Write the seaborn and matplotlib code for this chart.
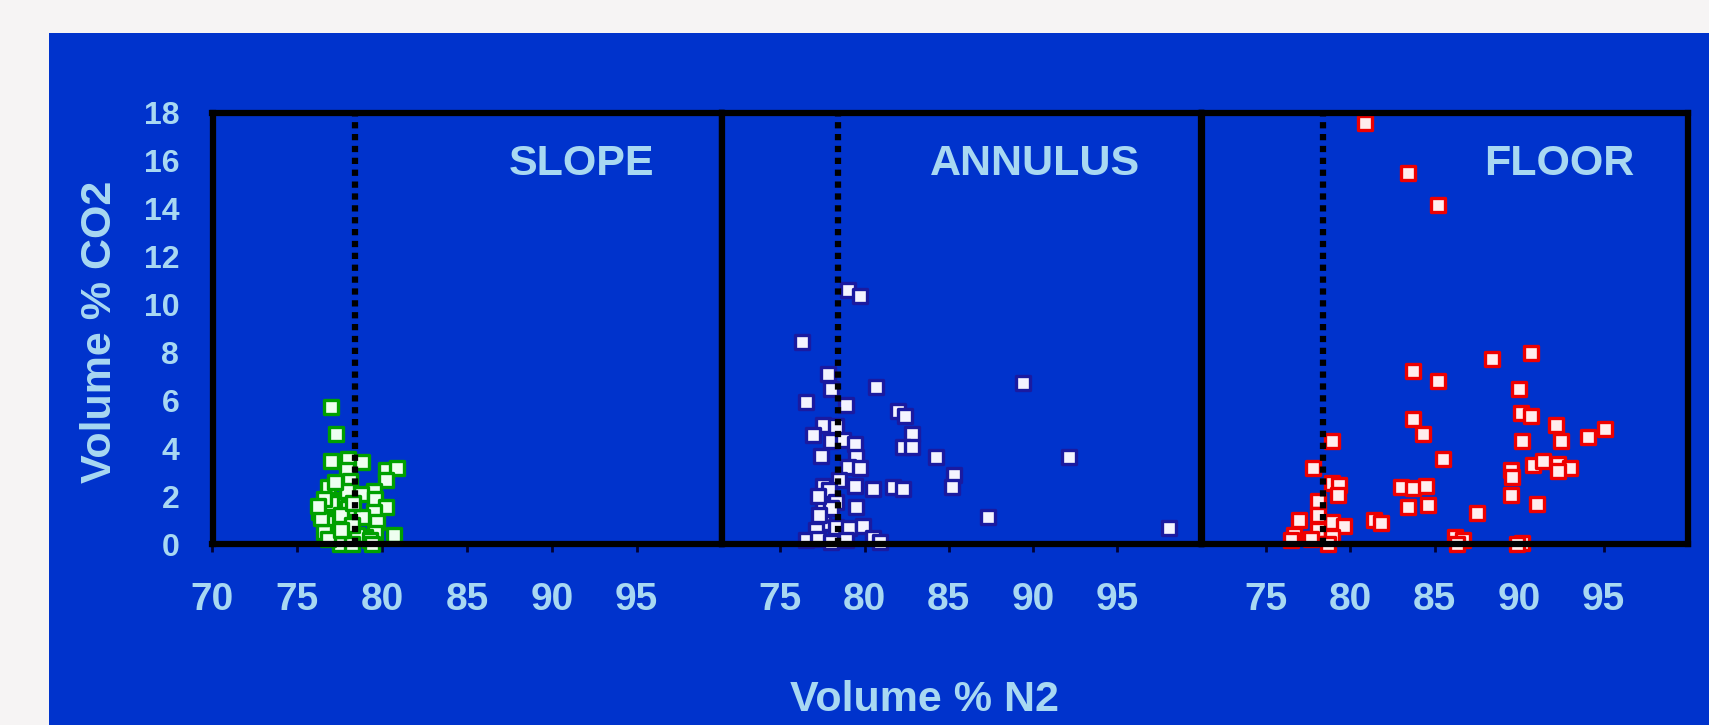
import matplotlib
matplotlib.use("Agg")
import matplotlib.pyplot as plt
import seaborn as sns
from matplotlib.patches import Rectangle

# Volume % N2 / Volume % CO2
slope_n2 = [77.0, 77.3, 77.0, 78.0, 78.8, 80.2, 80.9, 77.9, 78.1, 80.2, 76.8, 79.5,
            78.75, 79.6, 77.5, 80.2, 76.9, 78.0, 79.5, 76.3, 77.3, 76.7, 79.7, 78.8,
            76.6, 79.6, 80.7, 77.8, 79.0, 78.5, 79.3, 77.5, 78.2, 79.4, 76.4, 77.0,
            77.6, 78.2, 76.8, 77.9, 78.3, 77.2, 76.6, 77.6, 76.2]
slope_co2 = [5.72, 4.6, 3.47, 3.54, 3.44, 3.07, 3.17, 3.1, 2.65, 2.68, 2.4, 2.22,
             2.09, 1.88, 1.84, 1.56, 1.42, 1.49, 1.35, 1.35, 1.0, 0.93, 0.93, 1.14,
             0.51, 0.45, 0.38, 0.51, 0.31, 0.38, 0.17, 0.0, 0.02, 0.0, 1.1, 1.7,
             1.2, 0.8, 0.2, 2.2, 1.7, 2.6, 1.9, 0.6, 1.6]

annulus_n2 = [79.0, 79.7, 76.3, 77.8, 78.0, 80.7, 89.4, 76.5, 78.9, 82.0, 82.4, 77.55,
              78.3, 76.95, 82.8, 78.0, 78.7, 79.4, 82.25, 82.8, 77.4, 79.5, 84.25, 92.15,
              79.0, 79.7, 85.3, 78.5, 77.5, 77.9, 79.4, 80.5, 81.7, 82.25, 85.2, 78.3,
              79.5, 77.5, 78.0, 77.5, 78.3, 79.1, 79.9, 77.1, 87.3, 98.1, 76.5, 77.2,
              78.0, 78.9, 80.5, 80.9, 77.3, 77.2]
annulus_co2 = [10.6, 10.35, 8.45, 7.1, 6.47, 6.56, 6.72, 5.95, 5.82, 5.54, 5.33, 4.95,
               4.94, 4.56, 4.59, 4.31, 4.35, 4.18, 4.05, 4.05, 3.68, 3.65, 3.65, 3.65,
               3.23, 3.17, 2.9, 2.68, 2.43, 2.26, 2.43, 2.29, 2.4, 2.29, 2.4, 1.77,
               1.53, 1.49, 1.5, 0.89, 0.72, 0.66, 0.75, 0.59, 1.14, 0.66, 0.17, 0.2,
               0.1, 0.15, 0.24, 0.1, 1.2, 2.0]

floor_n2 = [80.9, 83.4, 85.2, 88.4, 90.7, 83.7, 85.2, 90.0, 90.1, 90.7, 83.7, 84.3,
            92.2, 95.1, 94.1, 92.5, 90.2, 78.9, 85.5, 77.8, 90.85, 91.4, 92.3, 93.0,
            92.3, 89.5, 89.6, 78.9, 79.35, 79.3, 83.0, 83.7, 84.5, 89.5, 83.4, 84.6,
            91.05, 87.5, 78.1, 77.0, 78.9, 79.65, 81.4, 81.8, 78.1, 78.1, 76.7, 77.7,
            78.9, 86.2, 86.7, 90.2, 76.5, 78.7, 86.3, 89.9]
floor_co2 = [17.6, 15.5, 14.15, 7.73, 7.98, 7.24, 6.79, 6.47, 5.47, 5.33, 5.2, 4.59,
             4.98, 4.8, 4.45, 4.32, 4.32, 4.32, 3.56, 3.19, 3.28, 3.47, 3.35, 3.17,
             3.03, 3.1, 2.78, 2.55, 2.47, 2.03, 2.4, 2.32, 2.42, 2.05, 1.55, 1.63,
             1.66, 1.28, 1.8, 1.02, 0.92, 0.75, 1.0, 0.88, 1.2, 0.6, 0.38, 0.2,
             0.3, 0.31, 0.15, 0.05, 0.15, 0.0, 0.0, 0.0]

panel_names = ["SLOPE", "ANNULUS", "FLOOR"]
first_ticks = [70, 75, 80, 85, 90, 95]
other_ticks = [75, 80, 85, 90, 95]
y_ticks = [0, 2, 4, 6, 8, 10, 12, 14, 16, 18]
N2_AIR = 78.4

BLUE = "#0033cc"
TEXT = "#a8d8f2"

sns.set_style("ticks")
plt.rcParams['font.family'] = ['Liberation Sans', 'DejaVu Sans']
plt.rcParams['font.weight'] = 'bold'

W, H = 1709, 725
fig = plt.figure(figsize=(W / 100, H / 100), dpi=100, facecolor="#f6f4f4")
fig.add_artist(Rectangle((49 / W, 0), 1, 1 - 33 / H, transform=fig.transFigure,
                         facecolor=BLUE, edgecolor="none", zorder=-1))

lefts = [212.5, 721.5, 1201.5]
widths = [509, 480, 486.5]
xlims = [(70, 100), (71.5, 100), (71.2, 100)]
title_x = [0.725, 0.654, 0.735]
fills = ["#eefff0", "#f4f4ff", "#ffeeee"]
edges = ["#00a000", "#1a1aa0", "#ee0000"]
data = [(slope_n2, slope_co2), (annulus_n2, annulus_co2), (floor_n2, floor_co2)]

bottom, top = 544, 113
for i in range(3):
    ax = fig.add_axes([lefts[i] / W, 1 - bottom / H, widths[i] / W, (bottom - top) / H])
    ax.set_facecolor(BLUE)
    n2, co2 = data[i]
    sns.scatterplot(x=n2, y=co2, ax=ax, marker="s", s=95, color=fills[i],
                    edgecolor=edges[i], linewidth=2.4, clip_on=False, legend=False, zorder=2)
    ax.axvline(N2_AIR, color="black", lw=4.5, ls=(0, (1, 0.9)), zorder=3)
    ax.set_xlim(*xlims[i])
    ax.set_ylim(0, 18)
    for sp in ax.spines.values():
        sp.set_color("black")
        sp.set_linewidth(4.5)
    ax.set_xticks(first_ticks if i == 0 else other_ticks)
    ax.tick_params(axis="x", direction="out", length=6, width=2, color="#000030",
                   labelcolor=TEXT, labelsize=28, pad=21)
    if i == 0:
        ax.set_yticks(y_ticks)
        ax.tick_params(axis="y", length=0, labelcolor=TEXT, labelsize=23, pad=24)
    else:
        ax.set_yticks([])
    ax.text(title_x[i], 0.882, panel_names[i], transform=ax.transAxes, ha="center",
            va="center", color=TEXT, fontsize=31, fontweight="bold")

fig.text(100 / W, 1 - 332 / H, "Volume % CO2", rotation=90, ha="center", va="center",
         color=TEXT, fontsize=31, fontweight="bold")
fig.text(924 / W, 1 - 700 / H, "Volume % N2", ha="center", va="center",
         color=TEXT, fontsize=31, fontweight="bold")

fig.savefig("out.png", dpi=100, facecolor=fig.get_facecolor())
